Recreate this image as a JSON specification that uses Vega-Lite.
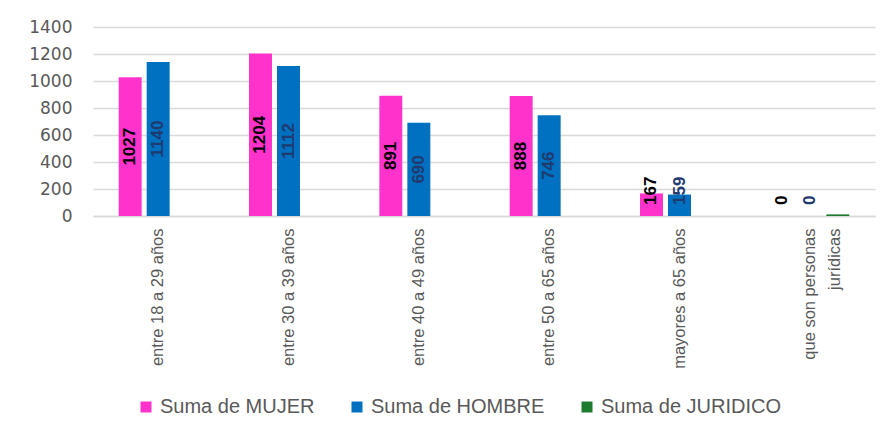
{
  "$schema": "https://vega.github.io/schema/vega-lite/v6.json",
  "autosize": {"type": "none"},
  "width": 782,
  "height": 189,
  "padding": {"left": 93, "top": 27, "right": 15, "bottom": 216},
  "background": "white",
  "config": {"view": {"stroke": null}},
  "data": {
    "values": [
      {"cat": "entre 18 a 29 años", "serie": "Suma de MUJER", "value": 1027},
      {"cat": "entre 18 a 29 años", "serie": "Suma de HOMBRE", "value": 1140},
      {"cat": "entre 30 a 39 años", "serie": "Suma de MUJER", "value": 1204},
      {"cat": "entre 30 a 39 años", "serie": "Suma de HOMBRE", "value": 1112},
      {"cat": "entre 40 a 49 años", "serie": "Suma de MUJER", "value": 891},
      {"cat": "entre 40 a 49 años", "serie": "Suma de HOMBRE", "value": 690},
      {"cat": "entre 50 a 65 años", "serie": "Suma de MUJER", "value": 888},
      {"cat": "entre 50 a 65 años", "serie": "Suma de HOMBRE", "value": 746},
      {"cat": "mayores a 65 años", "serie": "Suma de MUJER", "value": 167},
      {"cat": "mayores a 65 años", "serie": "Suma de HOMBRE", "value": 159},
      {"cat": "que son personas|jurídicas", "serie": "Suma de MUJER", "value": 0},
      {"cat": "que son personas|jurídicas", "serie": "Suma de HOMBRE", "value": 0},
      {"cat": "que son personas|jurídicas", "serie": "Suma de JURIDICO", "value": 12}
    ]
  },
  "resolve": {"axis": {"y": "independent"}, "scale": {"y": "shared"}},
  "encoding": {
    "x": {
      "field": "cat",
      "type": "nominal",
      "sort": null,
      "scale": {"paddingInner": 0.394, "paddingOuter": 0.197},
      "axis": {
        "title": null,
        "labelAngle": -90,
        "labelAlign": "right",
        "labelBaseline": "middle",
        "labelPadding": 12,
        "labelFont": "Liberation Sans",
        "labelFontSize": 16.5,
        "labelColor": "#595959",
        "labelLineHeight": 25,
        "labelExpr": "split(datum.label, '|')",
        "ticks": false,
        "domainColor": "#d9d9d9",
        "domainWidth": 1.5,
        "labelLimit": 400
      }
    },
    "xOffset": {
      "field": "serie",
      "type": "nominal",
      "scale": {"domain": ["Suma de MUJER", "Suma de HOMBRE", "Suma de JURIDICO"], "paddingInner": 0.18, "paddingOuter": 0}
    }
  },
  "layer": [
    {
      "mark": {"type": "bar"},
      "encoding": {
        "y": {
          "field": "value",
          "type": "quantitative",
          "scale": {"domain": [0, 1400], "nice": false},
          "axis": {
            "title": null,
            "values": [0, 200, 400, 600, 800, 1000, 1200, 1400],
            "format": "d",
            "labelOverlap": false,
            "domain": false,
            "ticks": false,
            "gridColor": "#d9d9d9",
            "gridWidth": 1.5,
            "labelFont": "DejaVu Sans",
            "labelFontSize": 17,
            "labelColor": "#595959",
            "labelPadding": 21
          }
        },
        "color": {
          "field": "serie",
          "type": "nominal",
          "scale": {"domain": ["Suma de MUJER", "Suma de HOMBRE", "Suma de JURIDICO"], "range": ["#FF33CC", "#0070C0", "#1E7A2E"]},
          "legend": {
            "title": null,
            "orient": "none",
            "direction": "horizontal",
            "legendX": 43,
            "legendY": 370,
            "symbolType": "square",
            "symbolSize": 121,
            "symbolStrokeWidth": 0,
            "labelFont": "Liberation Sans",
            "labelFontSize": 20,
            "labelColor": "#595959",
            "labelOffset": 4,
            "columnPadding": 32,
            "labelLimit": 300,
            "padding": 0
          }
        }
      }
    },
    {
      "transform": [
        {"filter": "datum.serie !== 'Suma de JURIDICO' && datum.value >= 400"},
        {"calculate": "datum.value / 2", "as": "mid"}
      ],
      "mark": {"type": "text", "angle": 270, "align": "center", "baseline": "middle", "font": "Liberation Sans", "fontSize": 17, "fontWeight": "bold"},
      "encoding": {
        "y": {"field": "mid", "type": "quantitative", "axis": null},
        "text": {"field": "value", "type": "quantitative"},
        "color": {"condition": {"test": "datum.serie === 'Suma de MUJER'", "value": "#000000"}, "value": "#1F3A6E"}
      }
    },
    {
      "transform": [
        {"filter": "datum.serie !== 'Suma de JURIDICO' && datum.value < 400"}
      ],
      "mark": {"type": "text", "angle": 270, "align": "left", "baseline": "middle", "dx": 11, "font": "Liberation Sans", "fontSize": 17, "fontWeight": "bold"},
      "encoding": {
        "y": {"datum": 0, "type": "quantitative", "axis": null},
        "text": {"field": "value", "type": "quantitative"},
        "color": {"condition": {"test": "datum.serie === 'Suma de MUJER'", "value": "#000000"}, "value": "#1F3A6E"}
      }
    }
  ]
}
